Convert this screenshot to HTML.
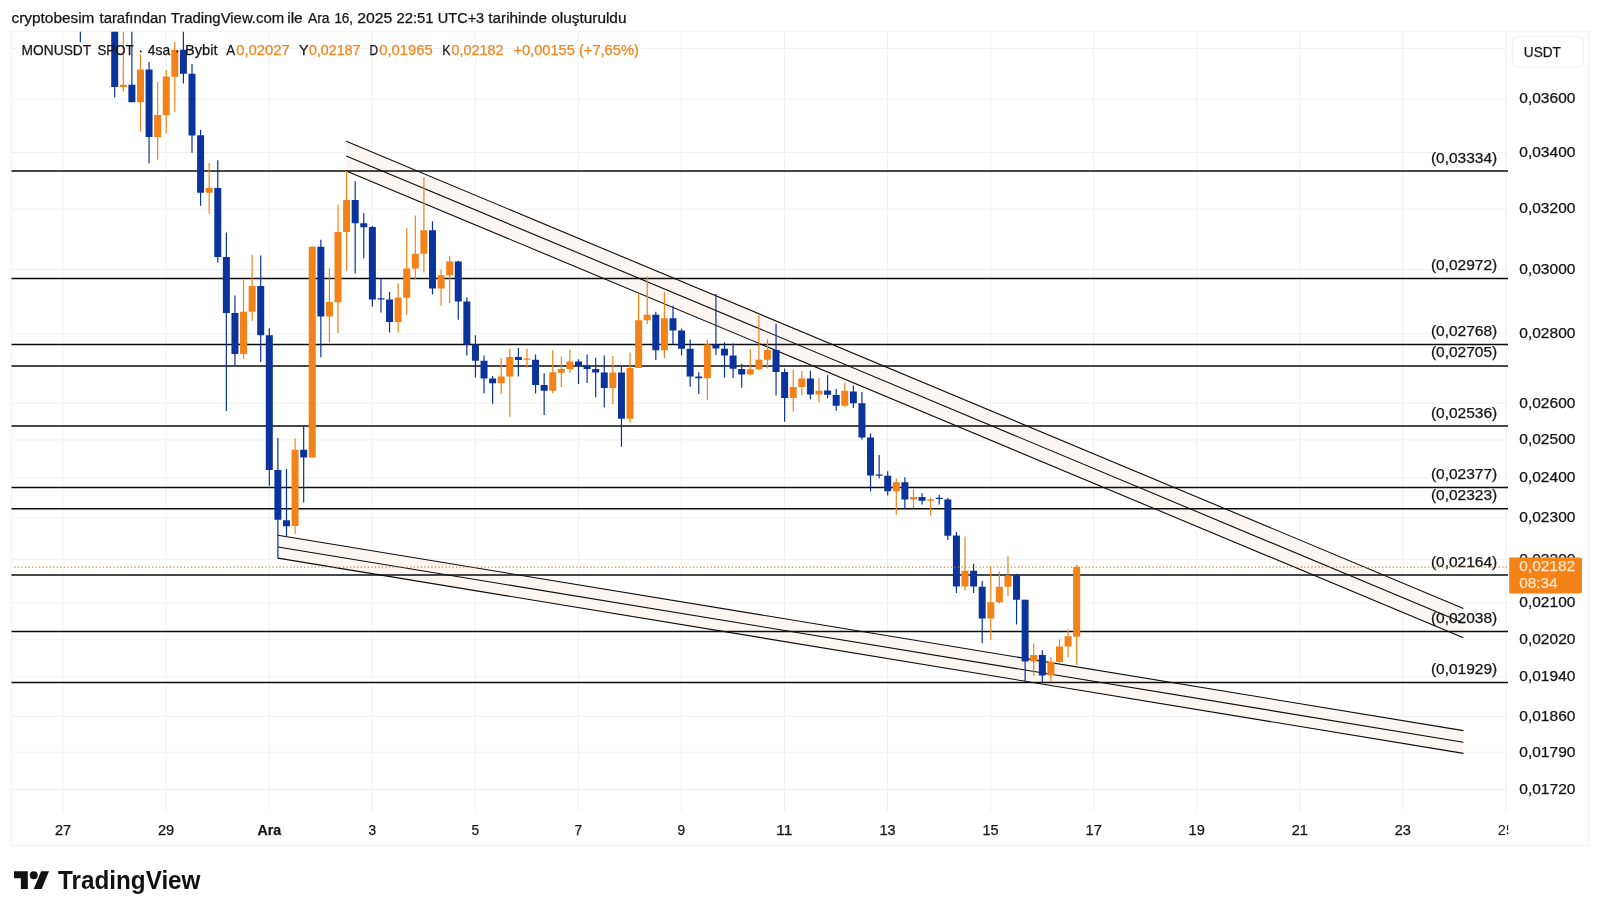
<!DOCTYPE html><html><head><meta charset="utf-8"><title>MONUSDT</title>
<style>html,body{margin:0;padding:0;background:#fff;overflow:hidden}svg{display:block;will-change:transform}text{font-family:"Liberation Sans",sans-serif}</style></head><body>
<svg width="1600" height="916" viewBox="0 0 1600 916">
<rect width="1600" height="916" fill="#fff"/>
<defs><clipPath id="pane"><rect x="12" y="31.7" width="1495" height="780"/></clipPath></defs>
<text x="11.5" y="23.4" font-size="14" fill="#151515" stroke="#151515" stroke-width="0.25" textLength="82.9" lengthAdjust="spacingAndGlyphs">cryptobesim</text>
<text x="99.5" y="23.4" font-size="14" fill="#151515" stroke="#151515" stroke-width="0.25" textLength="67.05" lengthAdjust="spacingAndGlyphs">tarafından</text>
<text x="170.7" y="23.4" font-size="14" fill="#151515" stroke="#151515" stroke-width="0.25" textLength="113.4" lengthAdjust="spacingAndGlyphs">TradingView.com</text>
<text x="287.2" y="23.4" font-size="14" fill="#151515" stroke="#151515" stroke-width="0.25" textLength="15.5" lengthAdjust="spacingAndGlyphs">ile</text>
<text x="307.9" y="23.4" font-size="14" fill="#151515" stroke="#151515" stroke-width="0.25" textLength="21.6" lengthAdjust="spacingAndGlyphs">Ara</text>
<text x="334.4" y="23.4" font-size="14" fill="#151515" stroke="#151515" stroke-width="0.25" textLength="18.7" lengthAdjust="spacingAndGlyphs">16,</text>
<text x="357.3" y="23.4" font-size="14" fill="#151515" stroke="#151515" stroke-width="0.25" textLength="35.1" lengthAdjust="spacingAndGlyphs">2025</text>
<text x="396.5" y="23.4" font-size="14" fill="#151515" stroke="#151515" stroke-width="0.25" textLength="37.1" lengthAdjust="spacingAndGlyphs">22:51</text>
<text x="437.8" y="23.4" font-size="14" fill="#151515" stroke="#151515" stroke-width="0.25" textLength="46.4" lengthAdjust="spacingAndGlyphs">UTC+3</text>
<text x="488.3" y="23.4" font-size="14" fill="#151515" stroke="#151515" stroke-width="0.25" textLength="58.8" lengthAdjust="spacingAndGlyphs">tarihinde</text>
<text x="551.2" y="23.4" font-size="14" fill="#151515" stroke="#151515" stroke-width="0.25" textLength="75.3" lengthAdjust="spacingAndGlyphs">oluşturuldu</text>
<path d="M63.05 31.5V811.5M166.11 31.5V811.5M269.17 31.5V811.5M372.23 31.5V811.5M475.29 31.5V811.5M578.35 31.5V811.5M681.41 31.5V811.5M784.47 31.5V811.5M887.53 31.5V811.5M990.59 31.5V811.5M1093.65 31.5V811.5M1196.71 31.5V811.5M1299.77 31.5V811.5M1402.83 31.5V811.5M11.5 48.51H1507M11.5 99.05H1507M11.5 152.48H1507M11.5 209.15H1507M11.5 269.48H1507M11.5 333.98H1507M11.5 403.25H1507M11.5 439.92H1507M11.5 478.08H1507M11.5 517.86H1507M11.5 559.42H1507M11.5 602.9H1507M11.5 639.21H1507M11.5 676.99H1507M11.5 716.35H1507M11.5 752.21H1507M11.5 789.5H1507" stroke="#f1f1f1" stroke-width="1" fill="none"/>
<rect x="11.5" y="31.5" width="1577" height="814" fill="none" stroke="#f4f4f4" stroke-width="1.4"/>
<path d="M1506.1 31.5V811.5" stroke="#f4f4f4" stroke-width="1.4" fill="none"/>
<g clip-path="url(#pane)">
<path d="M346.25 141.25L1463.4 608.4L1463.4 637.8L346.25 170.9Z" fill="#fbf6f2"/>
<path d="M278 535.3L1463.4 730.6L1463.4 753.4L278 558.1Z" fill="#fbf6f2"/>
<path d="M346.25 141.25L1463.4 608.4M346.25 155.9L1463.4 623.1M346.25 170.9L1463.4 637.8" stroke="#0c0c0c" stroke-width="1.1" fill="none"/>
<path d="M278 535.3L1463.4 730.6M278 547L1463.4 742.2M278 558.1L1463.4 753.4" stroke="#0c0c0c" stroke-width="1.1" fill="none"/>
</g>
<path d="M11.5 171H1508M11.5 278.5H1508M11.5 344.5H1508M11.5 365.9H1508M11.5 426H1508M11.5 487.5H1508M11.5 508.75H1508M11.5 575H1508M11.5 631.5H1508M11.5 682.5H1508" stroke="#0c0c0c" stroke-width="1.5" fill="none"/>
<text x="1430.9" y="162.5" font-size="14" fill="#151515" stroke="#151515" stroke-width="0.25" textLength="66.4" lengthAdjust="spacingAndGlyphs">(0,03334)</text>
<text x="1430.9" y="270" font-size="14" fill="#151515" stroke="#151515" stroke-width="0.25" textLength="66.4" lengthAdjust="spacingAndGlyphs">(0,02972)</text>
<text x="1430.9" y="336" font-size="14" fill="#151515" stroke="#151515" stroke-width="0.25" textLength="66.4" lengthAdjust="spacingAndGlyphs">(0,02768)</text>
<text x="1430.9" y="357.4" font-size="14" fill="#151515" stroke="#151515" stroke-width="0.25" textLength="66.4" lengthAdjust="spacingAndGlyphs">(0,02705)</text>
<text x="1430.9" y="417.5" font-size="14" fill="#151515" stroke="#151515" stroke-width="0.25" textLength="66.4" lengthAdjust="spacingAndGlyphs">(0,02536)</text>
<text x="1430.9" y="479" font-size="14" fill="#151515" stroke="#151515" stroke-width="0.25" textLength="66.4" lengthAdjust="spacingAndGlyphs">(0,02377)</text>
<text x="1430.9" y="500.25" font-size="14" fill="#151515" stroke="#151515" stroke-width="0.25" textLength="66.4" lengthAdjust="spacingAndGlyphs">(0,02323)</text>
<text x="1430.9" y="566.5" font-size="14" fill="#151515" stroke="#151515" stroke-width="0.25" textLength="66.4" lengthAdjust="spacingAndGlyphs">(0,02164)</text>
<text x="1430.9" y="623" font-size="14" fill="#151515" stroke="#151515" stroke-width="0.25" textLength="66.4" lengthAdjust="spacingAndGlyphs">(0,02038)</text>
<text x="1430.9" y="674" font-size="14" fill="#151515" stroke="#151515" stroke-width="0.25" textLength="66.4" lengthAdjust="spacingAndGlyphs">(0,01929)</text>
<g clip-path="url(#pane)">
<path d="M80.34 10V42.3M114.7 10V97.6M131.88 10V102.3M149.06 61.9V163.2M183.41 10V83.6M192 64V152.8M200.59 129.7V205.8M217.77 160.2V262.6M226.36 232.6V411.1M234.95 295.5V365.3M260.71 255.5V362M269.3 328.2V485.7M277.89 438.1V558.4M286.48 469.1V536.3M303.66 425.5V502.6M320.84 239.7V357.3M355.19 181.2V273.5M363.78 213.3V258.3M372.37 226V306.6M380.96 278.2V312.6M389.55 291.7V332.5M432.49 221.3V294.5M458.26 260.8V319.7M466.85 297.3V355.6M475.44 335.3V377.4M484.03 355.4V393.5M492.62 376.1V403.7M518.38 347.9V376.6M535.56 354.5V393.5M544.15 373.2V414.9M578.51 359.2V384.1M587.1 354.5V383M595.68 357.9V397.3M604.27 355.4V407.4M621.45 366.2V446.7M655.81 311.7V360.1M672.99 305.7V344.2M681.57 328.6V355.4M690.16 339.5V386.8M698.75 372.3V393.9M715.93 294V354.9M724.52 342.3V377.4M733.11 343.6V378M741.7 363.7V387.7M776.05 323.8V395.5M784.64 368.5V421.8M810.41 370.7V399.3M827.59 374.9V398.3M836.18 388.9V410.7M853.35 385.4V407.7M861.94 391.9V439.4M870.53 433.2V491.3M879.12 455V478.6M887.71 471.2V495.5M904.89 477.3V509.2M922.07 493.2V504.5M939.24 494.7V504.5M947.83 497.9V540.1M956.42 532.1V592.9M973.6 563.7V592.9M982.19 581V643.2M1016.55 573.8V624.5M1025.13 599.7V682.1M1042.31 650.2V682.1" stroke="#0b339c" stroke-width="1.2" fill="none"/>
<path d="M123.29 10V91.7M140.47 54.2V131.6M157.65 82V159.8M166.23 70.1V133.5M174.82 42V111.7M209.18 163V213.8M243.54 280V359.1M252.12 255.1V320.7M295.07 438.3V533.7M312.25 246.2V457.6M329.43 268.3V342.6M338.01 204.4V332.9M346.6 171V270.5M398.14 283.3V332.5M406.73 227.9V314.7M415.31 215.5V279.5M423.9 177.2V272.4M441.08 269.6V305.4M449.67 255.7V303M501.2 357.9V394.3M509.79 348.8V416.8M526.97 348.8V367.6M552.74 350.2V393M561.33 356.4V387.3M569.92 349.4V372.9M612.86 356V404.2M630.04 352.4V422.8M638.63 293.5V368M647.22 276.6V324.1M664.4 292.2V358.2M707.34 339.5V400.1M750.29 349.2V375.4M758.88 314.8V370.3M767.46 339.2V368.5M793.23 369.8V411.6M801.82 371.1V395.5M819 377.9V402.6M844.77 382.4V407.3M896.3 478.6V514.8M913.48 489.1V508.2M930.66 497.5V515.4M965.01 536.4V590.5M990.78 566.3V640.1M999.37 571.6V603.8M1007.96 556.6V596.3M1033.72 643.2V676.1M1050.9 657.3V681.7M1059.49 639.5V663.5M1068.08 629.5V657.3M1076.67 564.8V664.8" stroke="#f38218" stroke-width="1.2" fill="none"/>
<path d="M76.84 10h7V12h-7ZM111.2 10h7V86.9h-7ZM128.38 84.8h7V102.3h-7ZM145.56 69.6h7V136.9h-7ZM179.91 49.7h7V73.7h-7ZM188.5 73.7h7V135.4h-7ZM197.09 135.2h7V192.7h-7ZM214.27 188.1h7V257h-7ZM222.86 257h7V312.9h-7ZM231.45 312.9h7V353.9h-7ZM257.21 286.1h7V335.3h-7ZM265.8 335.3h7V469.9h-7ZM274.39 469.9h7V519.8h-7ZM282.98 520.2h7V526.2h-7ZM300.16 449.7h7V457.6h-7ZM317.34 246.7h7V316.5h-7ZM351.69 199.9h7V223.2h-7ZM360.28 223.2h7V227.3h-7ZM368.87 227h7V299.6h-7ZM377.46 298.3h7V299.6h-7ZM386.05 299.6h7V322h-7ZM428.99 230.2h7V288.4h-7ZM454.76 261.5h7V301.6h-7ZM463.35 301.5h7V344.5h-7ZM471.94 344.5h7V360.7h-7ZM480.53 360.7h7V378.5h-7ZM489.12 378.5h7V383.2h-7ZM514.88 356.9h7V360.1h-7ZM532.06 359.7h7V384.9h-7ZM540.65 384.9h7V390.7h-7ZM575.01 361.4h7V365.7h-7ZM583.6 365.4h7V368.9h-7ZM592.18 368.9h7V372.5h-7ZM600.77 372.5h7V387.9h-7ZM617.95 372.5h7V418.8h-7ZM652.31 314.7h7V350.2h-7ZM669.49 318.2h7V330.4h-7ZM678.07 330.4h7V348.8h-7ZM686.66 348.8h7V376.6h-7ZM695.25 376.6h7V378.3h-7ZM712.43 344.5h7V348.5h-7ZM721.02 348.8h7V355.4h-7ZM729.61 355.5h7V368.7h-7ZM738.2 369h7V374.4h-7ZM772.55 350.1h7V372h-7ZM781.14 372h7V397.9h-7ZM806.91 378.6h7V394.6h-7ZM824.09 390.4h7V394.7h-7ZM832.68 395.1h7V405.8h-7ZM849.85 391.4h7V403.2h-7ZM858.44 403.2h7V437.6h-7ZM867.03 437.6h7V475.4h-7ZM875.62 474.4h7V475.8h-7ZM884.21 475.8h7V491.3h-7ZM901.39 482.3h7V499.4h-7ZM918.57 497h7V500.7h-7ZM935.74 497.75h7V498.95h-7ZM944.33 499.4h7V535.8h-7ZM952.92 535.5h7V586.6h-7ZM970.1 570.8h7V586.6h-7ZM978.69 586.8h7V618.5h-7ZM1013.05 575.1h7V599.7h-7ZM1021.63 599.7h7V661.5h-7ZM1038.81 654.9h7V675.5h-7Z" fill="#0b339c"/>
<path d="M119.79 84.8h7V86.9h-7ZM136.97 69.6h7V102.3h-7ZM154.15 115h7V136.9h-7ZM162.73 76.5h7V115.3h-7ZM171.32 49.7h7V76.7h-7ZM205.68 188.1h7V192.7h-7ZM240.04 311.7h7V353.9h-7ZM248.62 286.1h7V311.7h-7ZM291.57 449.7h7V526.1h-7ZM308.75 246.7h7V457.6h-7ZM325.93 302h7V316.5h-7ZM334.51 232h7V302.2h-7ZM343.1 199.9h7V232h-7ZM394.64 297.7h7V322h-7ZM403.23 268.6h7V297.7h-7ZM411.81 253.8h7V268.6h-7ZM420.4 230.2h7V253.8h-7ZM437.58 275.2h7V288.4h-7ZM446.17 261.5h7V275.2h-7ZM497.7 376.6h7V383.2h-7ZM506.29 356.9h7V376.6h-7ZM523.47 358.55h7V359.75h-7ZM549.24 372.3h7V390.7h-7ZM557.83 369.1h7V372.7h-7ZM566.42 361.4h7V368.9h-7ZM609.36 372.5h7V387.9h-7ZM626.54 367.9h7V418.8h-7ZM635.13 320.3h7V368h-7ZM643.72 314.7h7V320.3h-7ZM660.9 318.2h7V350.2h-7ZM703.84 344.5h7V378.3h-7ZM746.79 369.2h7V374.5h-7ZM755.38 359.8h7V369.2h-7ZM763.96 350.1h7V359.8h-7ZM789.73 387.1h7V397.9h-7ZM798.32 378.6h7V387.1h-7ZM815.5 390.8h7V394.6h-7ZM841.27 390.8h7V405.8h-7ZM892.8 482.3h7V491.3h-7ZM909.98 497h7V499.4h-7ZM927.16 499.2h7V500.7h-7ZM961.51 570.8h7V586.6h-7ZM987.28 602.3h7V618.5h-7ZM995.87 586.8h7V602.3h-7ZM1004.46 575.6h7V586.8h-7ZM1030.22 654.9h7V661.5h-7ZM1047.4 662h7V675.5h-7ZM1055.99 646.6h7V662h-7ZM1064.58 636.3h7V646.6h-7ZM1073.17 567h7V636.7h-7Z" fill="#f38218"/>
</g>
<path d="M14.38 567.2H1509.2" stroke="#dc7a1c" stroke-width="1.2" stroke-dasharray="1.18 2.354" fill="none"/>
<text x="21.6" y="55.1" font-size="14" fill="#151515" stroke="#151515" stroke-width="0.25" textLength="69.6" lengthAdjust="spacingAndGlyphs">MONUSDT</text>
<text x="97.5" y="55.1" font-size="14" fill="#151515" stroke="#151515" stroke-width="0.25" textLength="36.1" lengthAdjust="spacingAndGlyphs">SPOT</text>
<text x="147.8" y="55.1" font-size="14" fill="#151515" stroke="#151515" stroke-width="0.25" textLength="22.3" lengthAdjust="spacingAndGlyphs">4sa</text>
<text x="185" y="55.1" font-size="14" fill="#151515" stroke="#151515" stroke-width="0.25" textLength="32.5" lengthAdjust="spacingAndGlyphs">Bybit</text>
<circle cx="140.7" cy="51.5" r="0.95" fill="#151515"/><circle cx="177.3" cy="51.5" r="0.95" fill="#151515"/>
<text x="226.3" y="55.1" font-size="14" fill="#151515" stroke="#151515" stroke-width="0.25" textLength="8.9" lengthAdjust="spacingAndGlyphs">A</text>
<text x="236.2" y="55.1" font-size="14" fill="#f0861f" stroke="#f0861f" stroke-width="0.25" textLength="53.6" lengthAdjust="spacingAndGlyphs">0,02027</text>
<text x="299" y="55.1" font-size="14" fill="#151515" stroke="#151515" stroke-width="0.25" textLength="9.6" lengthAdjust="spacingAndGlyphs">Y</text>
<text x="309" y="55.1" font-size="14" fill="#f0861f" stroke="#f0861f" stroke-width="0.25" textLength="51.4" lengthAdjust="spacingAndGlyphs">0,02187</text>
<text x="369.6" y="55.1" font-size="14" fill="#151515" stroke="#151515" stroke-width="0.25" textLength="8.6" lengthAdjust="spacingAndGlyphs">D</text>
<text x="379.2" y="55.1" font-size="14" fill="#f0861f" stroke="#f0861f" stroke-width="0.25" textLength="53.6" lengthAdjust="spacingAndGlyphs">0,01965</text>
<text x="442.3" y="55.1" font-size="14" fill="#151515" stroke="#151515" stroke-width="0.25" textLength="8.3" lengthAdjust="spacingAndGlyphs">K</text>
<text x="451.6" y="55.1" font-size="14" fill="#f0861f" stroke="#f0861f" stroke-width="0.25" textLength="51.8" lengthAdjust="spacingAndGlyphs">0,02182</text>
<text x="513.4" y="55.1" font-size="14" fill="#f0861f" stroke="#f0861f" stroke-width="0.25" textLength="125.4" lengthAdjust="spacingAndGlyphs">+0,00155 (+7,65%)</text>
<text x="1519.3" y="103.35" font-size="14" fill="#151515" stroke="#151515" stroke-width="0.25" textLength="56.1" lengthAdjust="spacingAndGlyphs">0,03600</text>
<text x="1519.3" y="156.78" font-size="14" fill="#151515" stroke="#151515" stroke-width="0.25" textLength="56.1" lengthAdjust="spacingAndGlyphs">0,03400</text>
<text x="1519.3" y="213.45" font-size="14" fill="#151515" stroke="#151515" stroke-width="0.25" textLength="56.1" lengthAdjust="spacingAndGlyphs">0,03200</text>
<text x="1519.3" y="273.78" font-size="14" fill="#151515" stroke="#151515" stroke-width="0.25" textLength="56.1" lengthAdjust="spacingAndGlyphs">0,03000</text>
<text x="1519.3" y="338.28" font-size="14" fill="#151515" stroke="#151515" stroke-width="0.25" textLength="56.1" lengthAdjust="spacingAndGlyphs">0,02800</text>
<text x="1519.3" y="407.55" font-size="14" fill="#151515" stroke="#151515" stroke-width="0.25" textLength="56.1" lengthAdjust="spacingAndGlyphs">0,02600</text>
<text x="1519.3" y="444.22" font-size="14" fill="#151515" stroke="#151515" stroke-width="0.25" textLength="56.1" lengthAdjust="spacingAndGlyphs">0,02500</text>
<text x="1519.3" y="482.38" font-size="14" fill="#151515" stroke="#151515" stroke-width="0.25" textLength="56.1" lengthAdjust="spacingAndGlyphs">0,02400</text>
<text x="1519.3" y="522.16" font-size="14" fill="#151515" stroke="#151515" stroke-width="0.25" textLength="56.1" lengthAdjust="spacingAndGlyphs">0,02300</text>
<text x="1519.3" y="563.72" font-size="14" fill="#151515" stroke="#151515" stroke-width="0.25" textLength="56.1" lengthAdjust="spacingAndGlyphs">0,02200</text>
<text x="1519.3" y="607.2" font-size="14" fill="#151515" stroke="#151515" stroke-width="0.25" textLength="56.1" lengthAdjust="spacingAndGlyphs">0,02100</text>
<text x="1519.3" y="643.51" font-size="14" fill="#151515" stroke="#151515" stroke-width="0.25" textLength="56.1" lengthAdjust="spacingAndGlyphs">0,02020</text>
<text x="1519.3" y="681.29" font-size="14" fill="#151515" stroke="#151515" stroke-width="0.25" textLength="56.1" lengthAdjust="spacingAndGlyphs">0,01940</text>
<text x="1519.3" y="720.65" font-size="14" fill="#151515" stroke="#151515" stroke-width="0.25" textLength="56.1" lengthAdjust="spacingAndGlyphs">0,01860</text>
<text x="1519.3" y="756.51" font-size="14" fill="#151515" stroke="#151515" stroke-width="0.25" textLength="56.1" lengthAdjust="spacingAndGlyphs">0,01790</text>
<text x="1519.3" y="793.8" font-size="14" fill="#151515" stroke="#151515" stroke-width="0.25" textLength="56.1" lengthAdjust="spacingAndGlyphs">0,01720</text>
<path d="M1509.2 557.4H1580a2 2 0 0 1 2 2V591.6a2 2 0 0 1 -2 2H1509.2Z" fill="#f38218"/>
<text x="1519.3" y="571.2" font-size="14" fill="#fee6c8" stroke="#fee6c8" stroke-width="0.25" textLength="55.8" lengthAdjust="spacingAndGlyphs">0,02182</text>
<text x="1519.3" y="587.8" font-size="14" fill="#fee6c8" stroke="#fee6c8" stroke-width="0.25" textLength="38.3" lengthAdjust="spacingAndGlyphs">08:34</text>
<rect x="1512.5" y="36.4" width="70.9" height="30.7" rx="5" fill="#fff" stroke="#f3f3f3" stroke-width="1.4"/>
<text x="1523.8" y="56.6" font-size="14.4" fill="#151515" stroke="#151515" stroke-width="0.25" textLength="37.1" lengthAdjust="spacingAndGlyphs">USDT</text>
<text x="54.95" y="834.5" font-size="14" fill="#151515" stroke="#151515" stroke-width="0.25" textLength="16.2" lengthAdjust="spacingAndGlyphs">27</text>
<text x="158.01" y="834.5" font-size="14" fill="#151515" stroke="#151515" stroke-width="0.25" textLength="16.2" lengthAdjust="spacingAndGlyphs">29</text>
<text x="257.5" y="834.5" font-size="14" fill="#151515" stroke="#151515" stroke-width="0.25" textLength="23.75" lengthAdjust="spacingAndGlyphs" font-weight="bold">Ara</text>
<text x="368.43" y="834.5" font-size="14" fill="#151515" stroke="#151515" stroke-width="0.25" textLength="7.6" lengthAdjust="spacingAndGlyphs">3</text>
<text x="471.49" y="834.5" font-size="14" fill="#151515" stroke="#151515" stroke-width="0.25" textLength="7.6" lengthAdjust="spacingAndGlyphs">5</text>
<text x="574.55" y="834.5" font-size="14" fill="#151515" stroke="#151515" stroke-width="0.25" textLength="7.6" lengthAdjust="spacingAndGlyphs">7</text>
<text x="677.61" y="834.5" font-size="14" fill="#151515" stroke="#151515" stroke-width="0.25" textLength="7.6" lengthAdjust="spacingAndGlyphs">9</text>
<text x="776.37" y="834.5" font-size="14" fill="#151515" stroke="#151515" stroke-width="0.25" textLength="16.2" lengthAdjust="spacingAndGlyphs">11</text>
<text x="879.43" y="834.5" font-size="14" fill="#151515" stroke="#151515" stroke-width="0.25" textLength="16.2" lengthAdjust="spacingAndGlyphs">13</text>
<text x="982.49" y="834.5" font-size="14" fill="#151515" stroke="#151515" stroke-width="0.25" textLength="16.2" lengthAdjust="spacingAndGlyphs">15</text>
<text x="1085.55" y="834.5" font-size="14" fill="#151515" stroke="#151515" stroke-width="0.25" textLength="16.2" lengthAdjust="spacingAndGlyphs">17</text>
<text x="1188.61" y="834.5" font-size="14" fill="#151515" stroke="#151515" stroke-width="0.25" textLength="16.2" lengthAdjust="spacingAndGlyphs">19</text>
<text x="1291.67" y="834.5" font-size="14" fill="#151515" stroke="#151515" stroke-width="0.25" textLength="16.2" lengthAdjust="spacingAndGlyphs">21</text>
<text x="1394.73" y="834.5" font-size="14" fill="#151515" stroke="#151515" stroke-width="0.25" textLength="16.2" lengthAdjust="spacingAndGlyphs">23</text>
<g clip-path="url(#tclip)"><text x="1497.79" y="834.5" font-size="14" fill="#151515" textLength="16.2" lengthAdjust="spacingAndGlyphs">25</text></g>
<defs><clipPath id="tclip"><rect x="1400" y="812" width="108.3" height="33"/></clipPath></defs>
<g transform="translate(14 867.37) scale(0.986 0.983)" fill="#111"><path d="M14 22H7V11H0V4h14v18zM28 22h-8l7.5-18h8L28 22z"/><circle cx="20" cy="8" r="4"/></g>
<text x="58" y="889" font-size="25.2" fill="#111" stroke="#111" stroke-width="0" textLength="142.5" lengthAdjust="spacingAndGlyphs" font-weight="bold">TradingView</text>
</svg></body></html>
